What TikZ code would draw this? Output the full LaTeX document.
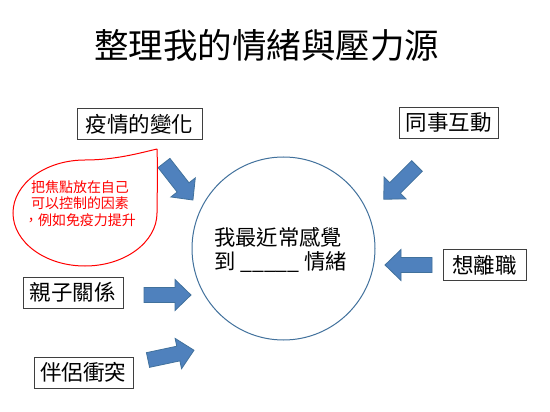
\documentclass[tikz,border=0pt]{standalone}
\usepackage{fontspec}
\setmainfont{Noto Sans CJK TC}
\definecolor{arrowfill}{HTML}{4F81BD}
\definecolor{arrowline}{HTML}{41719C}
\definecolor{circleline}{HTML}{41719C}
\definecolor{boxline}{HTML}{3F3F3F}
\begin{document}
\begin{tikzpicture}[x=1pt,y=-1pt,
  box/.style={draw=boxline, line width=0.9pt, inner xsep=2pt, inner ysep=0pt,
    minimum height=31pt, font=\fontsize{21.5}{24}\selectfont},
  barrow/.pic={\draw[line width=0.8pt, draw=arrowline, fill=arrowfill, line join=miter]
    (0,-7.5) -- (31,-7.5) -- (31,-15.5) -- (47,0) -- (31,15.5) -- (31,7.5) -- (0,7.5) -- cycle;},
  bubble/.style={draw=red, line width=1pt}]
\useasboundingbox[fill=white] (0,0) rectangle (550,412);

% title
\node[font=\fontsize{34.5}{38}\selectfont] (title) at (267,46) {整理我的情緒與壓力源};

% centre circle
\node[circle, draw=circleline, line width=1pt, minimum size=183pt, inner sep=0pt] (c) at (283.5,248.5) {};
\node[align=left, anchor=west, inner sep=0pt, font=\fontsize{21.3}{24}\selectfont] (ct) at (214,250)
  {我最近常感覺\\到 \_\_\_\_\_ 情緒};

% boxes
\node[box, minimum width=125pt] (b1) at (139.5,124) {疫情的變化};
\node[box, minimum width=99pt] (b2) at (448.5,122.5) {同事互動};
\node[box, minimum width=83pt] (b3) at (484.5,265) {想離職};
\node[box, minimum width=100pt] (b4) at (73,292.5) {親子關係};
\node[box, minimum width=99pt] (b5) at (83.5,372.5) {伴侶衝突};

% block arrows
\pic (a1) [rotate=-52] at (164,163) {barrow};
\pic (a2) [rotate=225] at (417,166) {barrow};
\pic (a3) [rotate=180] at (432,265) {barrow};
\pic (a4) [rotate=0] at (144,295) {barrow};
\pic (a5) [rotate=12] at (148,360) {barrow};

% teardrop callout
\draw[bubble] (157,149) .. controls (158,175) and (157,195) .. (157,213)
  .. controls (157,242) and (125,266) .. (85,266)
  .. controls (45,266) and (13,242) .. (13,213)
  .. controls (13,184) and (45,160) .. (85,160)
  .. controls (115,160) and (140,153) .. (157,149);
\node[align=center, text=red, inner sep=0pt, font=\fontsize{14}{16.5}\selectfont] (bt) at (80,203.5)
  {把焦點放在自己\\可以控制的因素\\，例如免疫力提升};
\end{tikzpicture}
\end{document}
